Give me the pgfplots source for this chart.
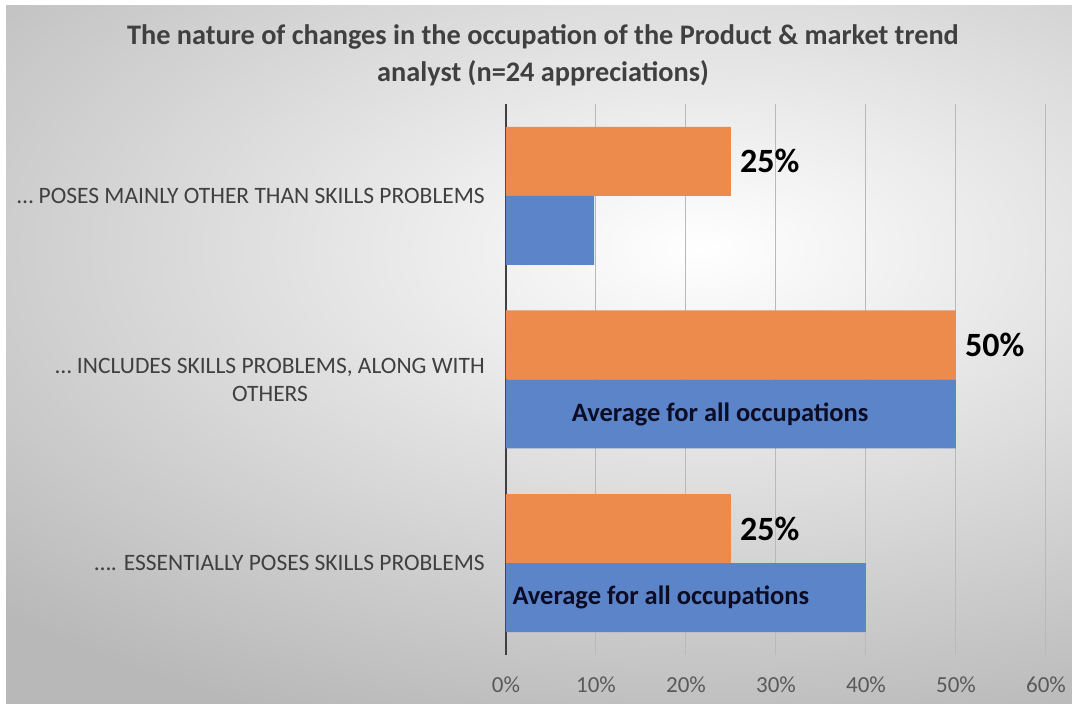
\documentclass[border=0pt]{standalone}
\usepackage{pgfplots}
\pgfplotsset{compat=1.18}
\usepackage{fontspec}
\setmainfont{Carlito}
\definecolor{cOrange}{RGB}{237,139,77}
\definecolor{cBlue}{RGB}{91,132,201}
\definecolor{cTitle}{RGB}{64,64,64}
\definecolor{cTick}{RGB}{89,89,89}
\definecolor{cGrid}{RGB}{185,185,185}
\definecolor{cNavy}{RGB}{12,12,36}
\begin{document}
\begin{tikzpicture}[x=1pt,y=1pt]
\useasboundingbox (0,0) rectangle (1072,704);
\fill[white] (0,0) rectangle (1072,704);
\begin{scope}
\clip (6,0) rectangle (1072,698);
\shade[inner color=white, outer color=black!28] (-300,-60) rectangle (1700,970);
\end{scope}
\node[font=\fontsize{28.3}{37}\selectfont\bfseries, text=cTitle, align=center] at (543,649) {The nature of changes in the occupation of the Product \& market trend\\analyst (n=24 appreciations)};
\begin{axis}[
  at={(506pt,49pt)}, anchor=south west, scale only axis,
  width=540pt, height=551pt,
  xbar, bar width=69pt,
  xmin=0, xmax=60, ymin=-0.5, ymax=2.5,
  axis x line*=bottom, axis y line*=left,
  x axis line style={draw=none},
  y axis line style={draw=cTitle, line width=2pt, -},
  major tick length=0pt,
  xmajorgrids, grid style={draw=cGrid, line width=1pt},
  xtick={0,10,20,30,40,50,60},
  /pgf/number format/assume math mode=true,
  xticklabel={\pgfmathprintnumber{\tick}\%},
  xticklabel style={font=\fontsize{23}{28}\selectfont, text=cTick, anchor=north, inner sep=0pt, yshift=-22pt},
  ytick={0,1,2},
  yticklabels={{…. ESSENTIALLY POSES SKILLS PROBLEMS},{… INCLUDES SKILLS PROBLEMS, ALONG WITH\\OTHERS},{… POSES MAINLY OTHER THAN SKILLS PROBLEMS}},
  yticklabel style={font=\fontsize{23.5}{28}\selectfont, text=cTitle, align=center, anchor=east, inner sep=0pt, xshift=-21pt},
  clip=false,
]
\addplot[fill=cOrange, draw=none, bar shift=34.5pt,
  nodes near coords={\pgfmathprintnumber{\pgfplotspointmeta}\%},
  nodes near coords style={font=\fontsize{34}{40}\selectfont\bfseries, text=black, anchor=west, inner sep=0pt, xshift=9pt}]
  coordinates {(25,0) (50,1) (25,2)};
\addplot[fill=cBlue, draw=none, bar shift=-34.5pt]
  coordinates {(40,0) (50,1) (9.8,2)};
\node[font=\fontsize{26.5}{30}\selectfont\bfseries, text=cNavy, yshift=-34.5pt] at (axis cs:23.8,1) {Average for all occupations};
\node[font=\fontsize{26.5}{30}\selectfont\bfseries, text=cNavy, yshift=-34.5pt] at (axis cs:17.2,0) {Average for all occupations};
\end{axis}
\end{tikzpicture}
\end{document}
